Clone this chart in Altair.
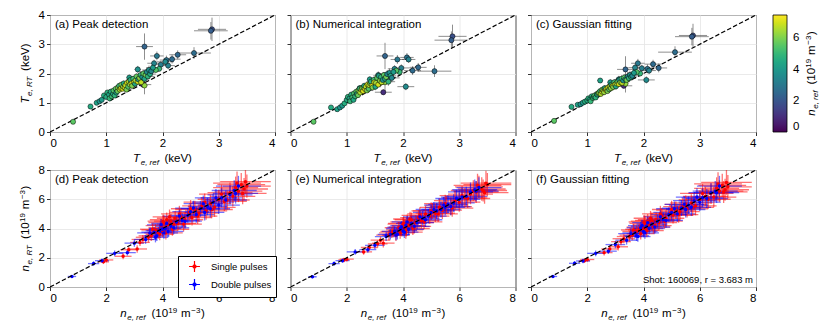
import altair as alt
import pandas as pd

# ---------------- data: electron temperature (top row) ----------------
T_REF = [
    0.41, 0.72, 0.83, 0.88, 0.92, 0.96, 2.88, 2.86, 2.56, 2.27,
    1.68, 2.17, 1.90, 2.07, 1.97, 2.10, 1.85, 2.05, 1.65, 1.56,
    1.94, 1.88, 1.68, 1.41, 1.23,
    1.00, 1.02, 1.05, 1.06, 1.08, 1.10, 1.12, 1.13, 1.15, 1.17,
    1.18, 1.20, 1.21, 1.23, 1.24, 1.26, 1.27, 1.29, 1.30, 1.31,
    1.33, 1.34, 1.36, 1.37, 1.39, 1.40, 1.42, 1.43, 1.45, 1.46,
    1.48, 1.49, 1.51, 1.52, 1.54, 1.56, 1.57, 1.59, 1.61, 1.62,
    1.64, 1.66, 1.68, 1.70, 1.72, 1.74, 1.76, 1.78, 1.80, 1.83]
NE_COL = [
    5.6, 4.6, 4.3, 3.9, 4.1, 4.7, 1.8, 2.2, 2.7, 2.5,
    2.4, 2.6, 3.0, 2.8, 3.2, 3.3, 3.4, 3.6, 1.0, 3.8,
    5.0, 5.5, 6.3, 4.2, 4.3,
    4.6, 4.8, 4.4, 5.0, 4.7, 5.2, 4.5, 5.4, 4.9, 5.6,
    4.3, 5.8, 6.2, 5.1, 6.6, 6.9, 5.9, 7.1, 6.4, 4.6,
    7.2, 6.8, 6.0, 7.0, 5.5, 6.7, 6.3, 4.8, 7.3, 6.1,
    5.2, 6.9, 4.5, 6.5, 5.7, 7.0, 4.2, 6.2, 5.0, 6.8,
    3.9, 5.6, 4.4, 5.9, 3.6, 4.9, 3.8, 4.6, 3.5, 4.1]
T_PEAK = [
    0.35, 0.87, 1.00, 1.05, 1.10, 1.25, 3.51, 3.46, 2.70, 2.64,
    2.92, 2.49, 2.60, 2.46, 2.30, 2.27, 2.35, 2.40, 1.62, 2.14,
    2.16, 2.12, 1.59, 1.86, 1.55,
    1.20, 1.35, 1.28, 1.15, 1.38, 1.22, 1.30, 1.42, 1.25, 1.48,
    1.35, 1.40, 1.52, 1.58, 1.45, 1.50, 1.62, 1.48, 1.55, 1.66,
    1.52, 1.60, 1.45, 1.68, 1.55, 1.72, 1.62, 1.78, 1.66, 1.58,
    1.82, 1.70, 1.65, 1.76, 1.90, 1.72, 1.80, 1.85, 1.95, 1.70,
    1.88, 2.00, 1.82, 1.95, 2.05, 1.90, 2.12, 1.98, 2.08, 2.20]
T_NUMINT = [
    0.35, 0.84, 0.78, 0.84, 0.90, 0.98, 3.27, 3.14, 2.08, 2.21,
    2.60, 2.10, 2.48, 2.55, 2.19, 2.48, 2.16, 1.55, 1.36, 1.95,
    2.05, 2.10, 1.70, 1.80, 1.50,
    1.10, 1.20, 1.15, 1.05, 1.28, 1.18, 1.10, 1.32, 1.22, 1.38,
    1.30, 1.26, 1.42, 1.48, 1.35, 1.45, 1.50, 1.40, 1.52, 1.58,
    1.46, 1.55, 1.42, 1.62, 1.48, 1.60, 1.66, 1.72, 1.58, 1.52,
    1.78, 1.70, 1.55, 1.68, 1.85, 1.62, 1.92, 1.75, 1.88, 1.70,
    1.78, 1.95, 1.82, 1.88, 1.98, 1.72, 2.02, 1.92, 1.85, 2.05]
T_GAUSS = [
    0.38, 0.86, 0.93, 0.95, 1.00, 1.04, 3.30, 3.26, 2.73, 2.19,
    2.14, 2.32, 2.35, 2.16, 2.18, 2.10, 2.20, 1.78, 1.58, 1.80,
    2.00, 2.05, 1.65, 1.70, 1.76,
    1.08, 1.15, 1.12, 1.05, 1.22, 1.16, 1.20, 1.25, 1.18, 1.30,
    1.28, 1.32, 1.35, 1.40, 1.30, 1.38, 1.45, 1.42, 1.36, 1.50,
    1.44, 1.48, 1.40, 1.52, 1.46, 1.55, 1.50, 1.62, 1.58, 1.54,
    1.70, 1.62, 1.56, 1.66, 1.72, 1.64, 1.78, 1.70, 1.82, 1.68,
    1.76, 1.86, 1.80, 1.78, 1.90, 1.84, 1.95, 1.88, 1.92, 2.02]
T_XERR = [
    0.02, 0.03, 0.03, 0.03, 0.03, 0.04, 0.25, 0.30, 0.30, 0.15,
    0.15, 0.15, 0.12, 0.12, 0.15, 0.12, 0.12, 0.15, 0.15, 0.06,
    0.06, 0.06, 0.05, 0.05, 0.05,
    0.04, 0.04, 0.05, 0.04, 0.05, 0.04, 0.05, 0.05, 0.04, 0.06,
    0.05, 0.05, 0.06, 0.06, 0.05, 0.05, 0.07, 0.05, 0.06, 0.08,
    0.05, 0.06, 0.07, 0.06, 0.08, 0.06, 0.07, 0.08, 0.06, 0.08,
    0.08, 0.06, 0.10, 0.07, 0.08, 0.07, 0.10, 0.08, 0.10, 0.08,
    0.12, 0.09, 0.10, 0.10, 0.12, 0.12, 0.12, 0.10, 0.14, 0.12]
T_YERR = [
    0.02, 0.03, 0.03, 0.04, 0.04, 0.05, 0.40, 0.30, 0.20, 0.15,
    0.45, 0.15, 0.15, 0.15, 0.12, 0.12, 0.12, 0.12, 0.10, 0.12,
    0.08, 0.08, 0.30, 0.10, 0.08,
    0.05, 0.06, 0.05, 0.04, 0.07, 0.05, 0.06, 0.06, 0.05, 0.08,
    0.06, 0.06, 0.07, 0.08, 0.06, 0.06, 0.09, 0.06, 0.07, 0.10,
    0.06, 0.07, 0.08, 0.07, 0.10, 0.08, 0.08, 0.10, 0.07, 0.12,
    0.10, 0.08, 0.12, 0.08, 0.10, 0.08, 0.12, 0.10, 0.12, 0.09,
    0.14, 0.10, 0.12, 0.12, 0.14, 0.14, 0.15, 0.12, 0.15, 0.14]

# ---------------- data: electron density (bottom row) ----------------
NS_REF = [1.90, 2.00, 2.60, 2.80, 3.10, 3.20, 3.30, 3.60, 3.75, 3.85,
          3.95, 4.00, 4.05, 4.10, 4.15, 4.20, 4.30, 4.35, 4.45, 4.55,
          4.65, 4.80, 4.95, 5.05, 5.15, 5.30, 5.40, 5.55, 5.70, 5.85,
          6.00, 6.20, 6.40, 6.50, 6.60, 6.70, 6.80, 6.90, 7.00,
          3.50, 3.65, 3.90, 4.02, 4.12, 4.25, 4.40, 4.60, 4.75, 5.00,
          5.25, 5.50, 5.75, 6.10, 6.30, 6.65, 6.85, 6.95]
NS_PEAK = [1.72, 1.85, 2.10, 2.55, 2.60, 3.05, 3.25, 3.50, 3.90, 3.70,
           4.20, 3.85, 4.40, 4.05, 4.60, 4.25, 4.50, 3.95, 4.70, 4.35,
           4.80, 4.60, 5.10, 4.75, 5.30, 5.05, 5.55, 5.20, 5.70, 5.45,
           6.00, 5.85, 6.45, 6.20, 6.80, 6.55, 7.00, 6.70, 6.90,
           3.40, 3.95, 3.60, 4.50, 3.70, 4.80, 4.30, 5.00, 4.30, 5.35,
           4.85, 5.80, 5.30, 6.35, 5.95, 7.10, 6.40, 7.20]
NS_NUMINT = [1.85, 1.90, 2.40, 2.70, 2.95, 3.20, 3.00, 3.70, 3.55, 4.05,
             3.90, 4.30, 4.10, 3.75, 4.45, 4.20, 4.60, 4.00, 4.40, 4.75,
             4.55, 5.00, 4.85, 5.20, 5.05, 5.45, 5.25, 5.60, 5.50, 5.90,
             5.80, 6.10, 6.35, 6.60, 6.50, 6.85, 6.70, 6.45, 7.00,
             3.55, 3.80, 3.70, 4.35, 3.90, 4.65, 4.15, 4.90, 4.45, 5.20,
             5.00, 5.70, 5.40, 6.25, 6.05, 6.95, 6.60, 7.10]
NS_GAUSS = [1.80, 1.88, 2.35, 2.60, 2.75, 3.10, 3.30, 3.55, 3.80, 3.95,
            4.10, 3.90, 4.35, 4.00, 4.50, 4.25, 4.55, 4.10, 4.60, 4.40,
            4.85, 4.70, 5.05, 4.90, 5.25, 5.15, 5.50, 5.35, 5.75, 5.55,
            5.95, 6.20, 6.40, 6.15, 6.75, 6.55, 6.95, 6.65, 6.85,
            3.45, 3.90, 3.65, 4.45, 3.85, 4.70, 4.20, 5.00, 4.50, 5.30,
            4.95, 5.65, 5.45, 6.40, 6.00, 7.05, 6.50, 7.15]
NS_XERR = [0.20, 0.25, 0.30, 0.30, 0.35, 0.35, 0.40, 0.45, 0.50, 0.50,
           0.55, 0.55, 0.55, 0.60, 0.60, 0.60, 0.60, 0.60, 0.65, 0.65,
           0.65, 0.65, 0.70, 0.70, 0.70, 0.70, 0.70, 0.75, 0.75, 0.75,
           0.75, 0.80, 0.80, 0.80, 0.80, 0.85, 0.85, 0.85, 0.85,
           0.45, 0.45, 0.50, 0.55, 0.60, 0.60, 0.60, 0.65, 0.65, 0.70,
           0.70, 0.75, 0.75, 0.80, 0.80, 0.85, 0.85, 0.90]
NS_YERR = [0.15, 0.15, 0.20, 0.20, 0.25, 0.25, 0.30, 0.35, 0.40, 0.40,
           0.45, 0.45, 0.50, 0.45, 0.50, 0.50, 0.50, 0.45, 0.50, 0.50,
           0.55, 0.55, 0.55, 0.55, 0.60, 0.60, 0.60, 0.60, 0.60, 0.65,
           0.65, 0.65, 0.70, 0.70, 0.75, 0.75, 0.80, 0.75, 0.80,
           0.35, 0.40, 0.40, 0.45, 0.45, 0.50, 0.50, 0.55, 0.50, 0.60,
           0.55, 0.60, 0.60, 0.65, 0.65, 0.80, 0.75, 0.85]

ND_REF = [0.78, 1.55, 1.85, 2.30, 2.75, 3.00, 3.40, 3.70, 3.80, 3.90,
          4.00, 4.10, 4.20, 4.30, 4.50, 4.70, 4.90, 5.00, 5.20, 5.35,
          5.50, 5.60, 5.80, 6.00, 6.10, 6.40, 6.55, 6.70,
          3.55, 3.75, 3.95, 4.05, 4.15, 4.40, 4.60, 4.80, 5.10, 5.45,
          5.70, 5.90, 6.25, 6.60]
ND_PEAK = [0.72, 1.60, 1.80, 2.30, 2.35, 3.00, 3.25, 3.75, 3.50, 3.85,
           3.95, 4.00, 3.80, 4.15, 4.45, 4.55, 4.90, 5.15, 4.95, 5.35,
           5.10, 5.50, 5.80, 5.60, 6.10, 6.30, 6.60, 6.90,
           3.70, 3.40, 4.25, 3.70, 4.35, 4.05, 4.85, 4.50, 5.40, 5.70,
           5.35, 6.10, 5.95, 6.40]
ND_NUMINT = [0.70, 1.60, 1.80, 2.40, 2.55, 2.85, 3.45, 3.80, 3.60, 4.00,
             3.85, 4.20, 3.95, 4.35, 4.40, 4.70, 4.85, 5.10, 5.20, 5.30,
             5.45, 5.65, 5.75, 6.00, 6.15, 6.50, 6.65, 6.80,
             3.60, 3.55, 4.10, 3.75, 4.45, 4.15, 4.80, 4.60, 5.30, 5.60,
             5.50, 6.05, 6.20, 6.55]
ND_GAUSS = [0.72, 1.62, 1.78, 2.30, 2.45, 2.90, 3.20, 3.70, 3.45, 4.05,
            3.80, 4.15, 4.00, 4.30, 4.50, 4.60, 4.95, 5.10, 5.00, 5.40,
            5.30, 5.60, 5.90, 5.80, 6.10, 6.45, 6.55, 6.90,
            3.65, 3.50, 4.20, 3.70, 4.40, 4.10, 4.80, 4.55, 5.35, 5.65,
            5.45, 6.15, 6.05, 6.45]
ND_XERR = [0.15, 0.20, 0.25, 0.30, 0.30, 0.35, 0.40, 0.45, 0.45, 0.50,
           0.50, 0.55, 0.55, 0.55, 0.60, 0.60, 0.65, 0.65, 0.65, 0.70,
           0.70, 0.70, 0.75, 0.75, 0.75, 0.80, 0.80, 0.80,
           0.45, 0.45, 0.50, 0.50, 0.55, 0.55, 0.60, 0.60, 0.65, 0.70,
           0.70, 0.75, 0.75, 0.80]
ND_YERR = [0.10, 0.15, 0.15, 0.20, 0.20, 0.25, 0.30, 0.35, 0.35, 0.40,
           0.40, 0.40, 0.40, 0.45, 0.45, 0.50, 0.50, 0.50, 0.55, 0.55,
           0.55, 0.60, 0.60, 0.60, 0.65, 0.65, 0.70, 0.70,
           0.35, 0.35, 0.40, 0.40, 0.40, 0.45, 0.45, 0.50, 0.50, 0.55,
           0.60, 0.60, 0.65, 0.70]

PANEL_LABELS = ["(a) Peak detection", "(b) Numerical integration", "(c) Gaussian fitting",
                "(d) Peak detection", "(e) Numerical integration", "(f) Gaussian fitting"]
T_TICKS = [0, 1, 2, 3, 4]
N_TICKS = [0, 2, 4, 6, 8]
CBAR_TICKS = [0, 2, 4, 6]
PULSE_KINDS = ["Single pulses", "Double pulses"]
PULSE_COLORS = ["#ff0000", "#0000ff"]
SHOT_TEXT = "Shot: 160069, r = 3.683 m"

for lst in [NE_COL, T_PEAK, T_NUMINT, T_GAUSS, T_XERR, T_YERR]:
    assert len(lst) == len(T_REF)
for lst in [NS_PEAK, NS_NUMINT, NS_GAUSS, NS_XERR, NS_YERR]:
    assert len(lst) == len(NS_REF)
for lst in [ND_PEAK, ND_NUMINT, ND_GAUSS, ND_XERR, ND_YERR]:
    assert len(lst) == len(ND_REF)

# ---------------- layout / style ----------------
FONT = "Liberation Sans"
W, H = 225, 117
FS = 11.5
ONE = pd.DataFrame({"a": [0]})

CW = {" ": .278, ",": .278, "(": .333, ")": .333, "T": .611, "R": .722, "V": .667,
      "e": .556, "f": .278, "k": .5, "m": .833, "n": .556, "r": .333, "\u2212": .584}


def tw(s, size):
    return size * sum(CW.get(ch, 0.556) for ch in s)


def rich(pieces, cx, cy, rotate=False):
    total = sum(tw(t, s) + g for t, s, it, sh, g in pieces)
    pos = -total / 2
    out = []
    for t, s, it, sh, g in pieces:
        pos += g
        if rotate:
            px, py, ang = cx + sh, cy - pos, 270
        else:
            px, py, ang = cx + pos, cy + sh, 0
        out.append(
            alt.Chart(ONE).mark_text(text=t, fontSize=s, fontStyle="italic" if it else "normal",
                                     align="left", baseline="alphabetic", angle=ang, color="black")
            .encode(x=alt.value(px), y=alt.value(py)))
        pos += tw(t, s)
    return out


def t_title(sub):
    return [("T", FS, True, 0, 0), (sub, 8, True, 2.5, 0.6), ("(keV)", FS, False, 0, 5.5)]


def n_title(sub):
    return [("n", FS, True, 0, 0), (sub, 8, True, 2.5, 0.6), ("(10", FS, False, 0, 6),
            ("19", 8, False, -4.5, 0.3), ("m", FS, False, 0, 3.8),
            ("\u22123", 8, False, -4.5, 0.6), (")", FS, False, 0, 0.6)]


def panel_label(txt):
    return alt.Chart(ONE).mark_text(text=txt, fontSize=FS, align="left", baseline="middle",
                                    color="black").encode(x=alt.value(5), y=alt.value(10))


def top_panel(i, yvals, legend):
    df = pd.DataFrame({"x": T_REF, "y": yvals, "n": NE_COL, "ex": T_XERR, "ey": T_YERR})
    df["xlo"] = df["x"] - df["ex"]
    df["xhi"] = df["x"] + df["ex"]
    df["ylo"] = df["y"] - df["ey"]
    df["yhi"] = df["y"] + df["ey"]
    sc = alt.Scale(domain=[0, 4], nice=False)
    xax = alt.Axis(values=T_TICKS, title=None, format="d")
    yax = alt.Axis(values=T_TICKS, title=None, format="d", labels=(i == 0))
    base = alt.Chart(df)
    xerr = base.mark_rule(color="#333333", opacity=0.55, strokeWidth=1, clip=True).encode(
        x=alt.X("xlo:Q", scale=sc, axis=xax), x2="xhi:Q", y=alt.Y("y:Q", scale=sc, axis=yax))
    yerr = base.mark_rule(color="#333333", opacity=0.55, strokeWidth=1, clip=True).encode(
        x=alt.X("x:Q", scale=sc, axis=xax), y=alt.Y("ylo:Q", scale=sc, axis=yax), y2="yhi:Q")
    diag = alt.Chart(pd.DataFrame({"x": [0, 4], "y": [0, 4]})).mark_line(
        color="black", strokeDash=[4.5, 2.2], strokeWidth=1.2, clip=True).encode(
        x=alt.X("x:Q", scale=sc, axis=xax), y=alt.Y("y:Q", scale=sc, axis=yax))
    pts = base.mark_circle(size=26, opacity=1, stroke="black", strokeWidth=0.5, clip=True).encode(
        x=alt.X("x:Q", scale=sc, axis=xax), y=alt.Y("y:Q", scale=sc, axis=yax),
        fill=alt.Fill("n:Q", scale=alt.Scale(scheme="viridis", domain=[0, 7.5], nice=False),
                      legend=legend))
    layers = [xerr, yerr, diag, pts, panel_label(PANEL_LABELS[i])]
    layers += rich(t_title("e, ref"), W / 2, H + 30)
    if i == 0:
        layers += rich(t_title("e, RT"), -21, H / 2, rotate=True)
    if i == 2:
        layers += rich(n_title("e, ref"), 284, H / 2, rotate=True)
    return alt.layer(*layers).properties(width=W, height=H)


def bottom_panel(i, ys, yd, legend):
    dfs = pd.DataFrame({"x": NS_REF, "y": ys, "ex": NS_XERR, "ey": NS_YERR, "kind": PULSE_KINDS[0]})
    dfd = pd.DataFrame({"x": ND_REF, "y": yd, "ex": ND_XERR, "ey": ND_YERR, "kind": PULSE_KINDS[1]})
    df = pd.concat([dfs, dfd], ignore_index=True)
    df["xlo"] = df["x"] - df["ex"]
    df["xhi"] = df["x"] + df["ex"]
    df["ylo"] = df["y"] - df["ey"]
    df["yhi"] = df["y"] + df["ey"]
    sc = alt.Scale(domain=[0, 8], nice=False)
    xax = alt.Axis(values=N_TICKS, title=None, format="d")
    yax = alt.Axis(values=N_TICKS, title=None, format="d", labels=(i == 3))
    col = alt.Color("kind:N", scale=alt.Scale(domain=PULSE_KINDS, range=PULSE_COLORS), legend=legend)
    base = alt.Chart(df)
    xerr = base.mark_rule(opacity=0.55, strokeWidth=1.3, clip=True).encode(
        x=alt.X("xlo:Q", scale=sc, axis=xax), x2="xhi:Q", y=alt.Y("y:Q", scale=sc, axis=yax), color=col)
    yerr = base.mark_rule(opacity=0.55, strokeWidth=1.3, clip=True).encode(
        x=alt.X("x:Q", scale=sc, axis=xax), y=alt.Y("ylo:Q", scale=sc, axis=yax), y2="yhi:Q", color=col)
    pts = base.mark_circle(size=12, opacity=1, clip=True).encode(
        x=alt.X("x:Q", scale=sc, axis=xax), y=alt.Y("y:Q", scale=sc, axis=yax), color=col)
    diag = alt.Chart(pd.DataFrame({"x": [0, 8], "y": [0, 8]})).mark_line(
        color="black", strokeDash=[4.5, 2.2], strokeWidth=1.2, clip=True).encode(
        x=alt.X("x:Q", scale=sc, axis=xax), y=alt.Y("y:Q", scale=sc, axis=yax))
    layers = [xerr, yerr, pts, diag, panel_label(PANEL_LABELS[i])]
    layers += rich(n_title("e, ref"), W / 2, H + 30)
    if i == 3:
        layers += rich(n_title("e, RT"), -21, H / 2, rotate=True)
    if i == 5:
        layers.append(alt.Chart(ONE).mark_text(text=SHOT_TEXT, fontSize=9.5, align="right",
                                               baseline="middle", color="black")
                      .encode(x=alt.value(W - 3), y=alt.value(H - 7)))
    return alt.layer(*layers).properties(width=W, height=H)


cbar_legend = alt.Legend(orient="none", legendX=242, legendY=0, direction="vertical",
                         gradientLength=H, gradientThickness=14, title=None, values=CBAR_TICKS,
                         labelFontSize=FS, labelOffset=6, labelColor="black", labelBaseline="middle",
                         gradientStrokeColor="black", gradientStrokeWidth=0.8, padding=0)
pulse_legend = alt.Legend(orient="none", legendX=128, legendY=86, direction="vertical", title=None,
                          labelFontSize=9.5, labelColor="black", labelOffset=10, symbolOffset=6,
                          symbolType="M-1,0L1,0M0,-1L0,1M-0.28,0A0.28,0.28 0 1,0 0.28,0A0.28,0.28 0 1,0 -0.28,0",
                          symbolSize=120, symbolStrokeWidth=1.2, symbolOpacity=1,
                          strokeColor="black", fillColor="white", padding=4, rowPadding=1,
                          cornerRadius=0)

panels = [
    top_panel(0, T_PEAK, None),
    top_panel(1, T_NUMINT, None),
    top_panel(2, T_GAUSS, cbar_legend),
    bottom_panel(3, NS_PEAK, ND_PEAK, pulse_legend),
    bottom_panel(4, NS_NUMINT, ND_NUMINT, None),
    bottom_panel(5, NS_GAUSS, ND_GAUSS, None),
]

chart = alt.concat(*panels, columns=3, spacing={"row": 38, "column": 15.5}, bounds="flush").resolve_scale(
    color="independent", fill="independent"
).properties(
    padding={"left": 9, "top": 0, "right": 0, "bottom": 0}
).configure(font=FONT).configure_view(
    stroke="black", strokeWidth=1
).configure_axis(
    domain=False, tickColor="black", tickSize=3.5, tickWidth=0.8, labelFontSize=FS,
    labelColor="black", labelPadding=2, gridColor="#e5e5e5", gridWidth=0.8, labelFont=FONT,
    labelOverlap=False
)

chart.save("out.html", embed_options={"renderer": "svg", "actions": False})
